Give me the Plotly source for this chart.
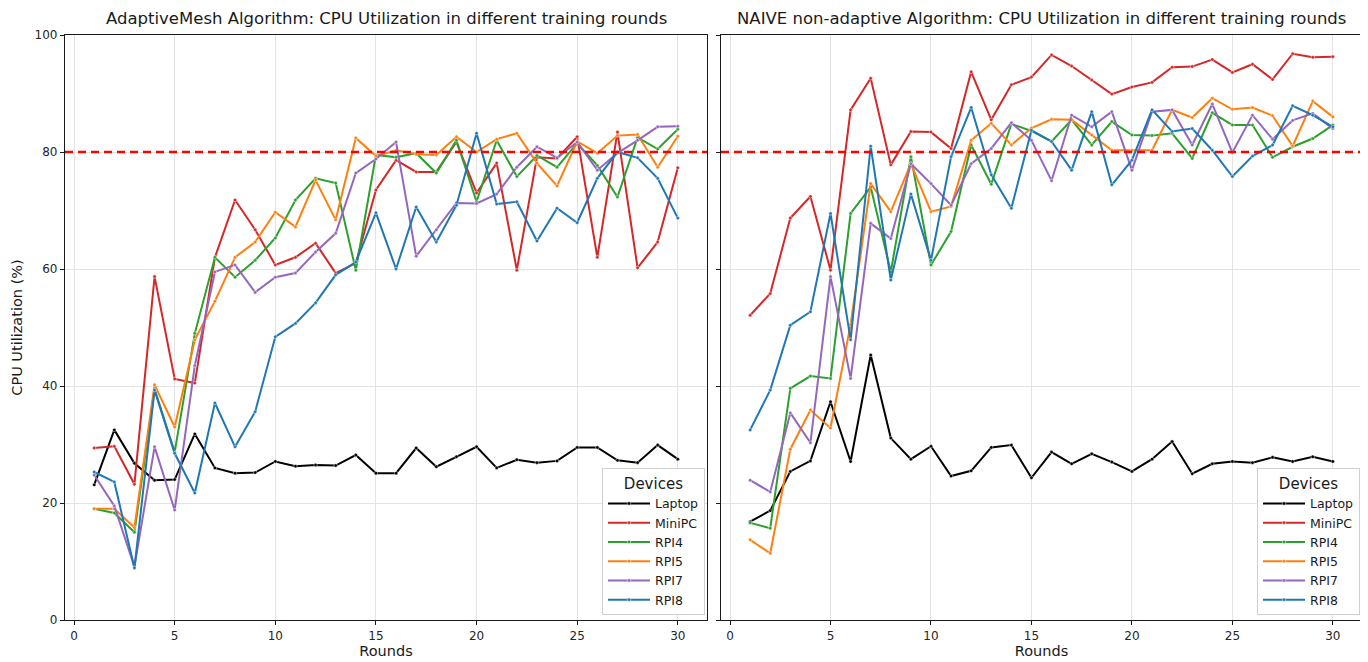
import plotly.graph_objects as go

rounds = list(range(1, 31))
devices = ["Laptop", "MiniPC", "RPI4", "RPI5", "RPI7", "RPI8"]
colors = ["#000000", "#d62728", "#2ca02c", "#ff7f0e", "#9467bd", "#1f77b4"]

# AdaptiveMesh algorithm
laptop_a = [23.1, 32.5, 26.8, 23.9, 24.0, 31.8, 26.0, 25.1, 25.2, 27.1, 26.3, 26.5, 26.4, 28.2, 25.1,
            25.1, 29.4, 26.2, 27.9, 29.6, 26.0, 27.4, 26.9, 27.2, 29.5, 29.5, 27.3, 26.9, 29.9, 27.5]
minipc_a = [29.4, 29.7, 23.2, 58.7, 41.2, 40.5, 62.0, 71.8, 66.7, 60.7, 62.0, 64.4, 59.3, 61.0, 73.5,
            78.6, 76.6, 76.6, 81.7, 73.0, 78.1, 59.8, 79.1, 78.9, 82.6, 62.0, 83.4, 60.2, 64.6, 77.3]
rpi4_a = [19.0, 18.3, 15.0, 39.5, 28.7, 49.0, 62.0, 58.6, 61.5, 65.3, 71.8, 75.5, 74.7, 59.8, 79.5,
          79.1, 79.8, 76.4, 82.0, 71.5, 82.0, 75.8, 79.4, 77.4, 81.5, 77.7, 72.3, 82.5, 80.5, 83.9]
rpi5_a = [19.0, 19.0, 15.8, 40.2, 33.0, 47.9, 54.5, 62.0, 64.6, 69.7, 67.2, 75.2, 68.4, 82.4, 79.3,
          80.3, 79.6, 79.5, 82.6, 80.0, 82.2, 83.2, 78.1, 74.2, 81.8, 79.8, 82.8, 83.0, 77.4, 82.7]
rpi7_a = [24.8, 19.5, 9.1, 29.6, 18.8, 43.5, 59.5, 60.7, 56.0, 58.6, 59.3, 62.9, 66.1, 76.4, 78.8,
          81.7, 62.2, 66.7, 71.3, 71.2, 72.8, 77.4, 80.9, 79.0, 81.7, 76.9, 79.8, 82.0, 84.3, 84.4]
rpi8_a = [25.3, 23.6, 8.9, 39.3, 28.5, 21.7, 37.1, 29.6, 35.6, 48.4, 50.7, 54.2, 59.0, 61.2, 69.6,
          60.0, 70.6, 64.6, 70.9, 83.2, 71.1, 71.5, 64.8, 70.4, 67.9, 75.5, 80.0, 79.0, 75.5, 68.7]

# NAIVE non-adaptive algorithm
laptop_n = [16.8, 18.7, 25.4, 27.2, 37.3, 27.1, 45.3, 31.1, 27.5, 29.7, 24.6, 25.5, 29.5, 29.9, 24.3,
            28.7, 26.7, 28.4, 27.0, 25.4, 27.5, 30.5, 25.0, 26.7, 27.1, 26.9, 27.8, 27.1, 27.9, 27.1]
minipc_n = [52.1, 55.8, 68.7, 72.4, 59.8, 87.2, 92.6, 77.8, 83.5, 83.4, 80.6, 93.7, 85.5, 91.5, 92.8,
            96.6, 94.7, 92.3, 89.9, 91.1, 91.9, 94.5, 94.6, 95.8, 93.6, 95.0, 92.4, 96.8, 96.2, 96.3]
rpi4_n = [16.6, 15.7, 39.6, 41.7, 41.3, 69.5, 74.0, 59.5, 79.2, 60.7, 66.4, 81.2, 74.5, 84.8, 83.6,
          81.8, 85.5, 81.2, 85.2, 82.9, 82.8, 83.2, 78.9, 86.7, 84.6, 84.6, 79.1, 80.9, 82.3, 84.6]
rpi5_n = [13.7, 11.4, 29.2, 35.9, 32.8, 50.5, 74.6, 69.8, 78.0, 69.8, 70.7, 82.0, 84.9, 81.2, 84.1,
          85.6, 85.5, 82.9, 80.3, 80.3, 80.3, 87.2, 85.9, 89.2, 87.3, 87.6, 86.2, 81.0, 88.7, 86.0]
rpi7_n = [23.9, 21.9, 35.4, 30.3, 58.7, 41.3, 67.8, 65.2, 78.0, 74.6, 70.9, 78.0, 80.6, 85.0, 82.0,
          75.1, 86.3, 84.3, 86.9, 76.9, 86.9, 87.2, 81.2, 88.2, 79.9, 86.3, 82.2, 85.4, 86.6, 84.0]
rpi8_n = [32.5, 39.3, 50.4, 52.7, 69.5, 47.9, 81.0, 58.1, 72.8, 61.5, 79.2, 87.6, 76.1, 70.4, 83.7,
          81.8, 76.9, 86.9, 74.4, 78.6, 87.2, 83.5, 84.0, 80.3, 75.8, 79.3, 81.2, 87.9, 86.3, 84.3]

threshold = 80
titles = ["AdaptiveMesh Algorithm: CPU Utilization in different training rounds",
          "NAIVE non-adaptive Algorithm: CPU Utilization in different training rounds"]
x_ticks = [0, 5, 10, 15, 20, 25, 30]
y_ticks = [0, 20, 40, 60, 80, 100]

series_a = [laptop_a, minipc_a, rpi4_a, rpi5_a, rpi7_a, rpi8_a]
series_n = [laptop_n, minipc_n, rpi4_n, rpi5_n, rpi7_n, rpi8_n]

FONT = "DejaVu Sans"
fig = go.Figure()

for series, xa, ya, lg in [(series_a, "x", "y", "legend"), (series_n, "x2", "y2", "legend2")]:
    for name, vals, col in zip(devices, series, colors):
        fig.add_trace(go.Scatter(
            x=rounds, y=vals, name=name, mode="lines+markers",
            line=dict(color=col, width=2),
            marker=dict(size=3.5, color=col, line=dict(color="rgba(255,255,255,0.8)", width=0.6)),
            xaxis=xa, yaxis=ya, legend=lg, showlegend=True,
        ))
    fig.add_trace(go.Scatter(
        x=[-0.45, 31.45], y=[threshold, threshold], mode="lines",
        line=dict(color="#ff0000", width=2.5, dash="8px,5px"),
        xaxis=xa, yaxis=ya, showlegend=False, hoverinfo="skip",
    ))

# page body has an 8px margin, so the figure is laid out 8px smaller
OFF = 8
W, H = 1368 - OFF, 662 - OFF
ml, mr, mt, mb = 65 - OFF, 6, 35 - OFF, 42
pw = W - ml - mr
d1 = [0, (707 - 65) / pw]
d2 = [(721 - 65) / pw, 1]

axis_common = dict(
    showline=True, mirror=True, linecolor="#1a1a1a", linewidth=1.3,
    ticks="outside", ticklen=4, tickcolor="#1a1a1a",
    showgrid=True, gridcolor="#e3e3e3", gridwidth=1, zeroline=False,
    tickfont=dict(family=FONT, size=12, color="#262626"),
)

legend_common = dict(
    title=dict(text="Devices", font=dict(size=15), side="top center"),
    y=0.008, xanchor="right", yanchor="bottom",
    bgcolor="rgba(255,255,255,0.9)", bordercolor="#d0d0d0", borderwidth=1,
    font=dict(family=FONT, size=12.5), tracegroupgap=0, itemwidth=42,
)

fig.update_layout(
    width=W, height=H,
    margin=dict(l=ml, r=mr, t=mt, b=mb, autoexpand=False),
    paper_bgcolor="white", plot_bgcolor="white",
    font=dict(family=FONT, color="#1a1a1a"),
    xaxis=dict(domain=d1, range=[-0.45, 31.45], tickvals=x_ticks,
               title=dict(text="Rounds", font=dict(size=14.5), standoff=4), **axis_common),
    xaxis2=dict(domain=d2, range=[-0.45, 31.45], tickvals=x_ticks, anchor="y2",
                title=dict(text="Rounds", font=dict(size=14.5), standoff=4), **axis_common),
    yaxis=dict(range=[0, 100], tickvals=y_ticks,
               title=dict(text="CPU Utilization (%)", font=dict(size=14.5), standoff=8), **axis_common),
    yaxis2=dict(range=[0, 100], tickvals=y_ticks, anchor="x2", showticklabels=False, **axis_common),
    legend=dict(x=(705 - 65) / pw, **legend_common),
    legend2=dict(x=(1360 - 65) / pw, **legend_common),
    annotations=[
        dict(text=titles[0], x=(d1[0] + d1[1]) / 2, y=1, xref="paper", yref="paper",
             xanchor="center", yanchor="bottom", yshift=5, showarrow=False,
             font=dict(family=FONT, size=16.5, color="#1a1a1a")),
        dict(text=titles[1], x=(d2[0] + d2[1]) / 2, y=1, xref="paper", yref="paper",
             xanchor="center", yanchor="bottom", yshift=5, showarrow=False,
             font=dict(family=FONT, size=16.5, color="#1a1a1a")),
    ],
)

fig.write_html("out.html")
